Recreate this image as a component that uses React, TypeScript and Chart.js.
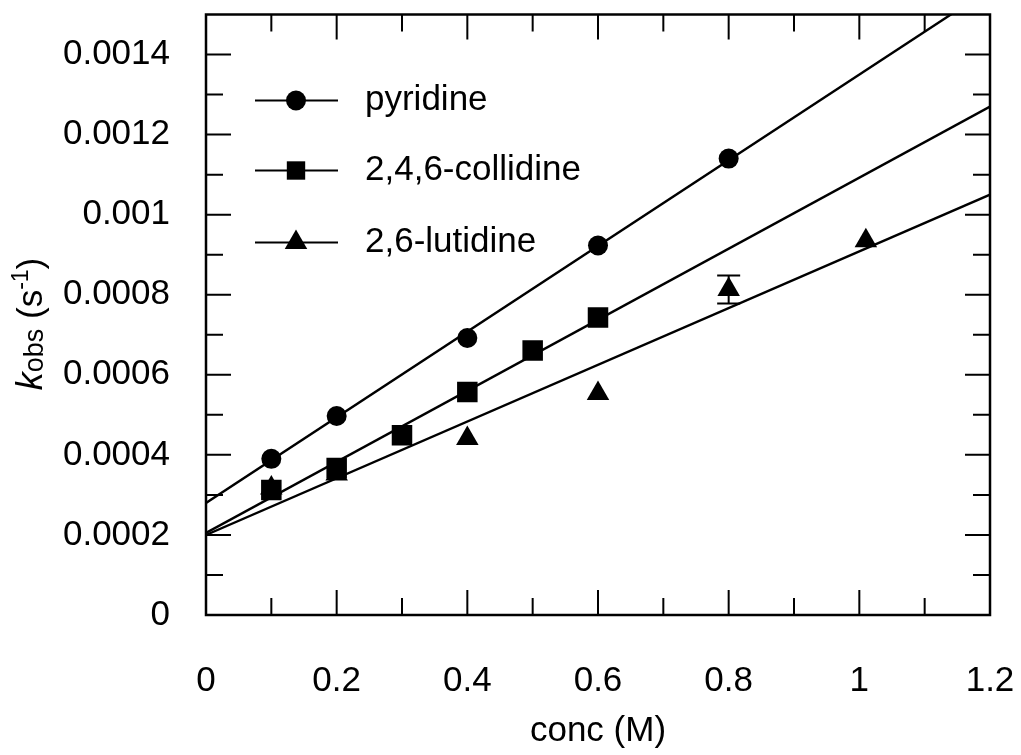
import React, { useEffect, useRef } from "react";
import { Chart, registerables } from "chart.js";

Chart.register(...registerables);

// ---- data ----
const pyridineX = [0.1, 0.2, 0.4, 0.6, 0.8];
const pyridineY = [0.00039, 0.000497, 0.000692, 0.000923, 0.00114];
const collidineX = [0.1, 0.2, 0.3, 0.4, 0.5, 0.6];
const collidineY = [0.000312, 0.000367, 0.000449, 0.000557, 0.000661, 0.000743];
const lutidineX = [0.1, 0.2, 0.4, 0.6, 0.8, 1.01];
const lutidineY = [0.000317, 0.000352, 0.000441, 0.000553, 0.000813, 0.000935];
const lutidineErr = [0, 0, 0, 0, 0.000035, 0];

const fitX = [0, 1.2];
const pyridineFit = [0.00028, 0.001564];
const collidineFit = [0.000205, 0.00127];
const lutidineFit = [0.0002, 0.00105];

const seriesLabels = ["pyridine", "2,4,6-collidine", "2,6-lutidine"];
const seriesStyles = ["circle", "rect", "triangle"];

const xMajor = [0, 0.2, 0.4, 0.6, 0.8, 1, 1.2];
const xMinor = [0.1, 0.3, 0.5, 0.7, 0.9, 1.1];
const xLabels = ["0", "0.2", "0.4", "0.6", "0.8", "1", "1.2"];
const yMajor = [0, 0.0002, 0.0004, 0.0006, 0.0008, 0.001, 0.0012, 0.0014];
const yMinor = [0.0001, 0.0003, 0.0005, 0.0007, 0.0009, 0.0011, 0.0013];
const yLabels = ["0", "0.0002", "0.0004", "0.0006", "0.0008", "0.001", "0.0012", "0.0014"];

const xTitle = "conc (M)";

const FONT = "'Liberation Sans', Arial, Helvetica, sans-serif";

const pts = (xs: number[], ys: number[]) => xs.map((x, i) => ({ x, y: ys[i] }));

function drawMarker(ctx: CanvasRenderingContext2D, style: string, x: number, y: number, r: number) {
  ctx.beginPath();
  if (style === "circle") {
    ctx.arc(x, y, r, 0, Math.PI * 2);
  } else if (style === "rect") {
    const s = r * Math.SQRT1_2;
    ctx.rect(x - s, y - s, 2 * s, 2 * s);
  } else {
    let rad = 0;
    ctx.moveTo(x + Math.sin(rad) * r, y - Math.cos(rad) * r);
    rad += (2 * Math.PI) / 3;
    ctx.lineTo(x + Math.sin(rad) * r, y - Math.cos(rad) * r);
    rad += (2 * Math.PI) / 3;
    ctx.lineTo(x + Math.sin(rad) * r, y - Math.cos(rad) * r);
    ctx.closePath();
  }
  ctx.fill();
}

const zeroPad = (s: any) => {
  s.paddingTop = 0;
  s.paddingBottom = 0;
  s.paddingLeft = 0;
  s.paddingRight = 0;
};

const decorPlugin = {
  id: "decor",
  afterDatasetsDraw(chart: any) {
    const ctx: CanvasRenderingContext2D = chart.ctx;
    const xs = chart.scales.x;
    const ys = chart.scales.y;
    // error bars
    ctx.save();
    ctx.strokeStyle = "#000";
    ctx.lineWidth = 2;
    lutidineX.forEach((xv, i) => {
      const e = lutidineErr[i];
      if (!e) return;
      const px = xs.getPixelForValue(xv);
      const y1 = ys.getPixelForValue(lutidineY[i] - e);
      const y2 = ys.getPixelForValue(lutidineY[i] + e);
      ctx.beginPath();
      ctx.moveTo(px, y1);
      ctx.lineTo(px, y2);
      ctx.moveTo(px - 11.5, y1);
      ctx.lineTo(px + 11.5, y1);
      ctx.moveTo(px - 11.5, y2);
      ctx.lineTo(px + 11.5, y2);
      ctx.stroke();
    });
    ctx.restore();
  },
  afterDraw(chart: any) {
    const ctx: CanvasRenderingContext2D = chart.ctx;
    const { left, right, top, bottom } = chart.chartArea;
    const xs = chart.scales.x;
    const ys = chart.scales.y;
    ctx.save();
    ctx.strokeStyle = "#000";
    ctx.fillStyle = "#000";
    // inward ticks on all four sides
    ctx.lineWidth = 2;
    ctx.beginPath();
    const xt = (vals: number[], len: number) =>
      vals.forEach((v) => {
        const p = xs.getPixelForValue(v);
        ctx.moveTo(p, bottom);
        ctx.lineTo(p, bottom - len);
        ctx.moveTo(p, top);
        ctx.lineTo(p, top + len);
      });
    const yt = (vals: number[], len: number) =>
      vals.forEach((v) => {
        const p = ys.getPixelForValue(v);
        ctx.moveTo(left, p);
        ctx.lineTo(left + len, p);
        ctx.moveTo(right, p);
        ctx.lineTo(right - len, p);
      });
    xt(xMajor, 25);
    xt(xMinor, 17);
    yt(yMajor, 25);
    yt(yMinor, 17);
    ctx.stroke();
    // frame
    ctx.lineWidth = 2.5;
    ctx.strokeRect(left, top, right - left, bottom - top);

    // legend
    const rowY = [top + 86, top + 156, top + 228];
    const radii = [10, 13, 13];
    seriesLabels.forEach((lab, i) => {
      const y = rowY[i];
      ctx.lineWidth = 2.2;
      ctx.beginPath();
      ctx.moveTo(left + 49, y);
      ctx.lineTo(left + 132, y);
      ctx.stroke();
      drawMarker(ctx, seriesStyles[i], left + 90, y, radii[i]);
      ctx.font = `35px ${FONT}`;
      ctx.textAlign = "left";
      ctx.textBaseline = "middle";
      ctx.fillText(lab, left + 159, y);
    });

    // x axis title
    ctx.font = `35px ${FONT}`;
    ctx.textAlign = "center";
    ctx.textBaseline = "middle";
    ctx.fillText(xTitle, (left + right) / 2, 731);

    // y axis title: k_obs (s^-1)
    const parts = [
      { t: "k", f: `italic 36px ${FONT}`, dy: 0 },
      { t: "obs", f: `27px ${FONT}`, dy: 1 },
      { t: " (s", f: `35px ${FONT}`, dy: 0 },
      { t: "-1", f: `23px ${FONT}`, dy: -14 },
      { t: ")", f: `35px ${FONT}`, dy: 0 },
    ];
    let total = 0;
    const widths = parts.map((p) => {
      ctx.font = p.f;
      const w = ctx.measureText(p.t).width;
      total += w;
      return w;
    });
    ctx.translate(42, 324);
    ctx.rotate(-Math.PI / 2);
    ctx.textAlign = "left";
    ctx.textBaseline = "alphabetic";
    let u = -total / 2;
    parts.forEach((p, i) => {
      ctx.font = p.f;
      ctx.fillText(p.t, u, p.dy);
      u += widths[i];
    });
    ctx.restore();
  },
};

export default function App() {
  const ref = useRef<HTMLCanvasElement | null>(null);
  useEffect(() => {
    if (!ref.current) return;
    const lineDs = (ys: number[]) => ({
      type: "line" as const,
      data: pts(fitX, ys),
      borderColor: "#000",
      borderWidth: 2.4,
      pointRadius: 0,
      fill: false,
      tension: 0,
      order: 2,
    });
    const scatterDs = (label: string, xs: number[], ys: number[], style: string, r: number) => ({
      type: "scatter" as const,
      label,
      data: pts(xs, ys),
      pointStyle: style,
      pointRadius: r,
      pointBackgroundColor: "#000",
      pointBorderColor: "#000",
      pointBorderWidth: 0,
      showLine: false,
      order: 1,
    });
    const chart = new Chart(ref.current, {
      type: "scatter",
      data: {
        datasets: [
          lineDs(pyridineFit),
          lineDs(collidineFit),
          lineDs(lutidineFit),
          scatterDs(seriesLabels[0], pyridineX, pyridineY, seriesStyles[0], 10),
          scatterDs(seriesLabels[1], collidineX, collidineY, seriesStyles[1], 14.5),
          scatterDs(seriesLabels[2], lutidineX, lutidineY, seriesStyles[2], 13),
        ] as any,
      },
      options: {
        animation: false,
        responsive: false,
        events: [],
        layout: { padding: { top: 14, right: 31, left: 0, bottom: 0 } },
        plugins: { legend: { display: false }, tooltip: { enabled: false }, title: { display: false } },
        scales: {
          x: {
            type: "linear",
            min: 0,
            max: 1.2,
            grid: { display: false, drawTicks: false },
            border: { display: false },
            afterBuildTicks: (s: any) => {
              s.ticks = xMajor.map((v) => ({ value: v }));
            },
            afterFit: (s: any) => {
              s.height = 140;
              zeroPad(s);
            },
            ticks: {
              autoSkip: false,
              maxRotation: 0,
              padding: 45,
              color: "#000",
              font: { family: FONT, size: 35 },
              callback: (_v: any, i: number) => xLabels[i],
            },
          },
          y: {
            type: "linear",
            min: 0,
            max: 0.0015,
            grid: { display: false, drawTicks: false },
            border: { display: false },
            afterBuildTicks: (s: any) => {
              s.ticks = yMajor.map((v) => ({ value: v }));
            },
            afterFit: (s: any) => {
              s.width = 206;
              zeroPad(s);
            },
            ticks: {
              autoSkip: false,
              padding: 36,
              color: "#000",
              font: { family: FONT, size: 35 },
              callback: (_v: any, i: number) => yLabels[i],
            },
          },
        },
      } as any,
      plugins: [decorPlugin],
    });
    return () => chart.destroy();
  }, []);
  return (
    <div style={{ position: "fixed", left: 0, top: 0, width: 1021, height: 755, background: "#fff" }}>
      <canvas ref={ref} width={1021} height={755} style={{ display: "block", width: 1021, height: 755 }} />
    </div>
  );
}
